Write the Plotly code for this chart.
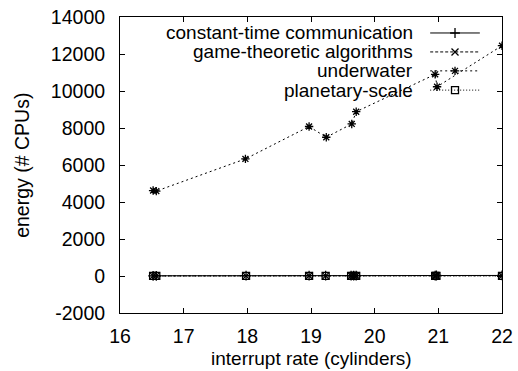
import plotly.graph_objects as go

# ---- data ----
x_upper = [16.52, 16.57, 17.97, 18.97, 19.24, 19.64, 19.71, 20.95, 20.98, 22.0]
underwater = [4620, 4590, 6330, 8080, 7500, 8220, 8880, 10900, 10230, 12450]

x_lower = [16.52, 16.57, 17.98, 18.97, 19.23, 19.63, 19.67, 19.71, 20.95, 20.97, 22.0]
constant_time = [10, 12, 15, 18, 16, 20, 21, 22, 25, 26, 30]
game_theoretic = [5, 6, 8, 9, 8, 10, 11, 11, 13, 13, 15]
planetary_scale = [2, 3, 4, 5, 4, 6, 6, 6, 7, 7, 8]

y_tick_vals = [-2000, 0, 2000, 4000, 6000, 8000, 10000, 12000, 14000]
y_tick_text = ["-2000", "0", "2000", "4000", "6000", "8000", "10000", "12000", "14000"]

series = [
    ("constant-time communication", x_lower, constant_time, "solid", "cross-thin-open"),
    ("game-theoretic algorithms", x_lower, game_theoretic, "3px,2px", "x-thin-open"),
    ("underwater", x_upper, underwater, "2px,3px", "asterisk-open"),
    ("planetary-scale", x_lower, planetary_scale, "1px,2px", "square-open"),
]

FONT = "Liberation Sans, Arial, sans-serif"
fig = go.Figure()

for name, xs, ys, dash, sym in series:
    fig.add_trace(go.Scatter(
        x=xs, y=ys, mode="lines+markers", name=name, showlegend=False,
        line=dict(color="black", width=1, dash=dash),
        marker=dict(symbol=sym, size=7, color="black",
                    line=dict(color="black", width=1.3)),
    ))

# manual gnuplot-style legend (text left, sample right) on an overlay axis
leg_y = [0.946, 0.882, 0.818, 0.753]
for (name, xs, ys, dash, sym), ly in zip(series, leg_y):
    fig.add_trace(go.Scatter(
        x=[0.812, 0.942], y=[ly, ly], mode="lines", xaxis="x2", yaxis="y2",
        showlegend=False, hoverinfo="skip",
        line=dict(color="black", width=1, dash=dash)))
    fig.add_trace(go.Scatter(
        x=[0.877], y=[ly], mode="markers", xaxis="x2", yaxis="y2",
        showlegend=False, hoverinfo="skip",
        marker=dict(symbol=sym, size=7, color="black",
                    line=dict(color="black", width=1.3))))
    fig.add_annotation(x=0.772, y=ly, xref="x2", yref="y2", text=name,
                       showarrow=False, xanchor="right", yanchor="middle",
                       font=dict(family=FONT, size=19, color="black"))

# axis titles as paper annotations
fig.add_annotation(x=0.5, y=-0.1554, xref="paper", yref="paper",
                   text="interrupt rate (cylinders)", showarrow=False,
                   xanchor="center", yanchor="middle",
                   font=dict(family=FONT, size=19, color="black"))
fig.add_annotation(x=-0.257, y=0.5, xref="paper", yref="paper",
                   text="energy (# CPUs)", showarrow=False, textangle=-90,
                   xanchor="center", yanchor="middle",
                   font=dict(family=FONT, size=19.5, color="black"))

fig.update_layout(
    width=518, height=371,
    margin=dict(l=120, r=16, t=17, b=58),
    paper_bgcolor="white", plot_bgcolor="white",
    font=dict(family=FONT, size=19.5, color="black"),
    xaxis=dict(range=[16, 22], dtick=1, ticks="inside", ticklen=5,
               showline=True, linecolor="black", linewidth=1, mirror="ticks",
               showgrid=False, zeroline=False, tickcolor="black",
               ticklabelstandoff=6, automargin=False),
    yaxis=dict(range=[-2000, 14000], tickvals=y_tick_vals, ticktext=y_tick_text,
               ticks="inside", ticklen=5,
               showline=True, linecolor="black", linewidth=1, mirror="ticks",
               showgrid=False, zeroline=False, tickcolor="black",
               ticklabelstandoff=10, automargin=False),
    xaxis2=dict(range=[0, 1], overlaying="x", visible=False, fixedrange=True),
    yaxis2=dict(range=[0, 1], overlaying="y", visible=False, fixedrange=True),
)

fig.write_html("out.html")
